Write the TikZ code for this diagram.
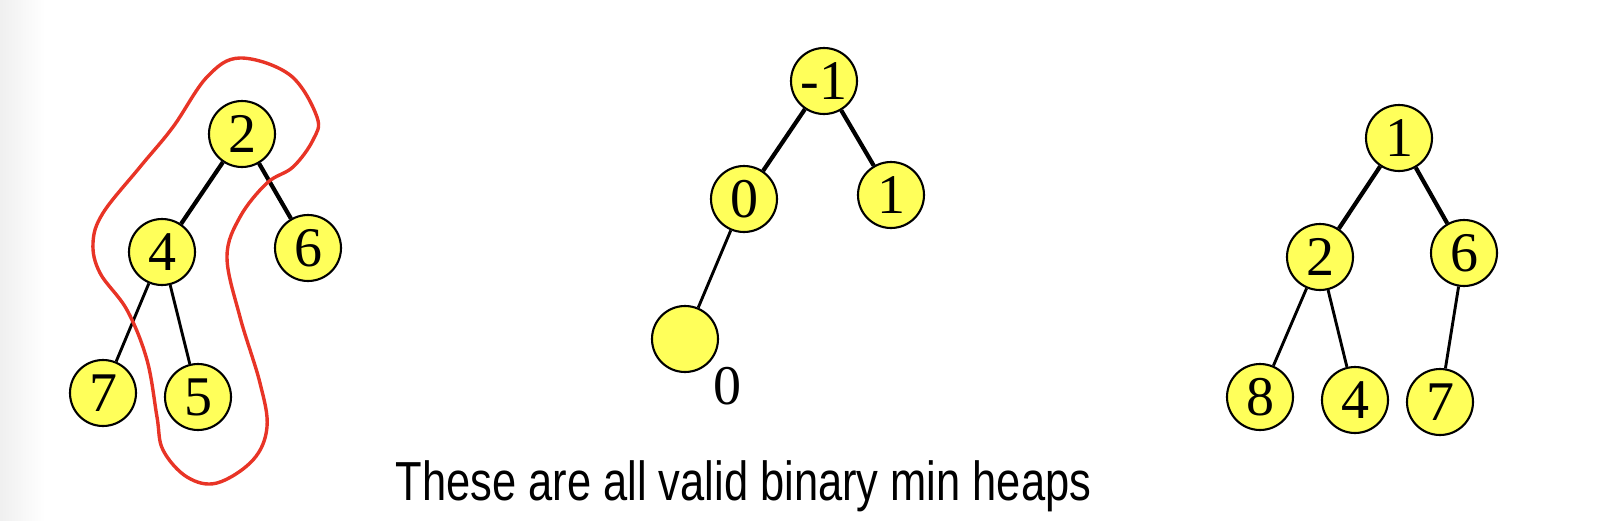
\documentclass[tikz,border=0pt]{standalone}
\usepackage{fontspec}
\usepackage{graphicx}
\newfontfamily\digitfont{Liberation Serif}
\newfontfamily\capfont{Liberation Sans}
\definecolor{heapyellow}{RGB}{255,255,90}
\definecolor{loopred}{RGB}{232,52,38}
\begin{document}
\begin{tikzpicture}[x=1pt,y=-1pt,
  heapnode/.style={circle,draw=black,line width=2.1pt,fill=heapyellow,minimum size=66pt,inner sep=0pt,
    font=\digitfont\fontsize{56}{56}\selectfont},
  thickedge/.style={line width=4.2pt,black},
  thinedge/.style={line width=2.9pt,black},
  loopline/.style={draw=loopred,line width=3.4pt}]
\useasboundingbox (0,0) rectangle (1610,520);
\shade[left color=black!6,right color=white,shading angle=90] (0,0) rectangle (45,520);
% left heap
\node[heapnode] (a2) at (242,134) {2};
\node[heapnode] (a4) at (162,252) {4};
\node[heapnode] (a6) at (308,248) {6};
\node[heapnode] (a7) at (103,393) {7};
\node[heapnode] (a5) at (198,397) {5};
\draw[thickedge] (a2) -- (a4);
\draw[thickedge] (a2) -- (a6);
\draw[thinedge] (a4) -- (a7);
\draw[thinedge] (a4) -- (a5);
\draw[loopline] plot[smooth cycle,tension=0.6] coordinates {
 (240,58) (290,75) (317,117) (313,140) (293,167) (267,183) (240,217) (227,257)
 (240,317) (260,383) (267,427) (253,460) (217,483) (187,477) (163,450) (157,417)
 (147,360) (127,310) (100,273) (93,243) (103,213) (140,167) (173,127) (207,77)};
% middle heap
\node[heapnode] (bm1) at (824,81) {-1};
\node[heapnode] (b0) at (744,199) {0};
\node[heapnode] (b1) at (891,195) {1};
\node[heapnode] (be) at (685,339) {};
\node[font=\digitfont\fontsize{56}{56}\selectfont,inner sep=0pt] (blbl) at (727,386) {0};
\draw[thickedge] (bm1) -- (b0);
\draw[thickedge] (bm1) -- (b1);
\draw[thinedge] (b0) -- (be);
% right heap
\node[heapnode] (c1) at (1399,138) {1};
\node[heapnode] (c2) at (1320,257) {2};
\node[heapnode] (c6) at (1464,253) {6};
\node[heapnode] (c8) at (1260,397) {8};
\node[heapnode] (c4) at (1355,400) {4};
\node[heapnode] (c7) at (1440,402) {7};
\draw[thickedge] (c1) -- (c2);
\draw[thickedge] (c1) -- (c6);
\draw[thinedge] (c2) -- (c8);
\draw[thinedge] (c2) -- (c4);
\draw[thinedge] (c6) -- (c7);
% caption
\node[anchor=base,inner sep=0pt,font=\capfont\fontsize{55}{55}\selectfont] (cap) at (743.5,500)
  {\scalebox{0.79}[1]{These are all valid binary min heaps}};
\end{tikzpicture}
\end{document}
